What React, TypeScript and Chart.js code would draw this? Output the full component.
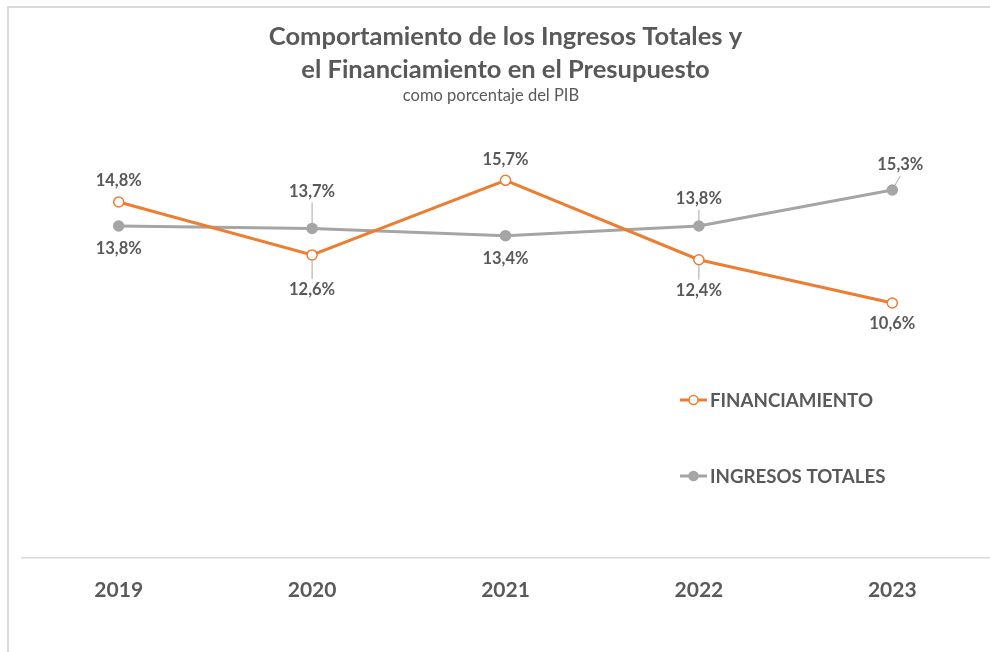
import React, { useEffect, useRef } from "react";
import { Chart, registerables } from "chart.js";

Chart.register(...registerables);

const years = ["2019", "2020", "2021", "2022", "2023"];
const financiamiento = [14.8, 12.6, 15.7, 12.4, 10.6];
const ingresosTotales = [13.8, 13.7, 13.4, 13.8, 15.3];
const seriesNames = ["FINANCIAMIENTO", "INGRESOS TOTALES"];
const titleLines = ["Comportamiento de los Ingresos Totales y", "el Financiamiento en el Presupuesto"];
const subtitleText = "como porcentaje del PIB";

const ORANGE = "#ED7D31";
const GRAY = "#A5A5A5";
const TEXT = "#595959";
const FONT = "Lato, 'Open Sans', sans-serif";

// label placement (pixel offsets from each point) – styling only
const labelPlacement = [
  [
    { dx: 0, dy: -21, leader: false },
    { dx: 0, dy: 35, leader: true },
    { dx: 0, dy: -21, leader: false },
    { dx: 0, dy: 31, leader: true },
    { dx: 0, dy: 21, leader: false },
  ],
  [
    { dx: 0, dy: 23, leader: false },
    { dx: 0, dy: -37, leader: true },
    { dx: 0, dy: 23, leader: false },
    { dx: 0, dy: -27, leader: true },
    { dx: 8, dy: -25, leader: true },
  ],
];

const fmt = (v: number) => v.toFixed(1).replace(".", ",") + "%";

const dataLabelPlugin = {
  id: "dataLabels",
  afterDatasetsDraw(chart: any) {
    const ctx = chart.ctx;
    ctx.save();
    ctx.font = `bold 16.5px ${FONT}`;
    ctx.textAlign = "center";
    ctx.textBaseline = "middle";
    chart.data.datasets.forEach((ds: any, di: number) => {
      const meta = chart.getDatasetMeta(di);
      meta.data.forEach((pt: any, i: number) => {
        const p = labelPlacement[di][i];
        const lx = pt.x + p.dx;
        const ly = pt.y + p.dy;
        if (p.leader) {
          const ex = lx;
          const ey = ly + (p.dy < 0 ? 11 : -11);
          const vx = ex - pt.x;
          const vy = ey - pt.y;
          const len = Math.hypot(vx, vy) || 1;
          const sx = pt.x + (vx / len) * 5;
          const sy = pt.y + (vy / len) * 5;
          ctx.strokeStyle = "#A6A6A6";
          ctx.lineWidth = 1;
          ctx.beginPath();
          ctx.moveTo(sx, sy);
          ctx.lineTo(ex, ey);
          ctx.stroke();
        }
        ctx.fillStyle = TEXT;
        ctx.fillText(fmt(ds.data[i]), lx, ly);
      });
    });
    ctx.restore();
  },
};

const subtitlePlugin = {
  id: "subtitleText",
  afterDraw(chart: any) {
    const ctx = chart.ctx;
    ctx.save();
    ctx.font = `normal 16.5px ${FONT}`;
    ctx.fillStyle = TEXT;
    ctx.textAlign = "center";
    ctx.textBaseline = "middle";
    ctx.fillText(subtitleText, 491, 96);
    ctx.restore();
  },
};

const legendPlugin = {
  id: "customLegend",
  afterDraw(chart: any) {
    const ctx = chart.ctx;
    const x0 = 680;
    const ys = [400, 476];
    ctx.save();
    chart.data.datasets.forEach((ds: any, di: number) => {
      const y = ys[di];
      ctx.strokeStyle = ds.borderColor;
      ctx.lineWidth = 3;
      ctx.beginPath();
      ctx.moveTo(x0, y);
      ctx.lineTo(x0 + 27, y);
      ctx.stroke();
      ctx.beginPath();
      ctx.arc(x0 + 13.5, y, 4.5, 0, Math.PI * 2);
      ctx.fillStyle = ds.pointBackgroundColor;
      ctx.fill();
      ctx.lineWidth = 1.5;
      ctx.strokeStyle = ds.pointBorderColor;
      ctx.stroke();
      ctx.fillStyle = TEXT;
      ctx.font = `bold 18.7px ${FONT}`;
      ctx.textAlign = "left";
      ctx.textBaseline = "middle";
      ctx.fillText(ds.label, x0 + 30, y + 1);
    });
    ctx.restore();
  },
};

export default function App() {
  const ref = useRef<HTMLCanvasElement>(null);
  useEffect(() => {
    if (!ref.current) return;
    const chart = new Chart(ref.current, {
      type: "line",
      data: {
        labels: years,
        datasets: [
          {
            label: seriesNames[0],
            data: financiamiento,
            borderColor: ORANGE,
            borderWidth: 3,
            pointBackgroundColor: "#FFFFFF",
            pointBorderColor: ORANGE,
            pointBorderWidth: 1.5,
            pointRadius: 5,
            tension: 0,
          },
          {
            label: seriesNames[1],
            data: ingresosTotales,
            borderColor: GRAY,
            borderWidth: 3,
            pointBackgroundColor: GRAY,
            pointBorderColor: GRAY,
            pointBorderWidth: 1.5,
            pointRadius: 5,
            tension: 0,
          },
        ],
      },
      options: {
        responsive: false,
        animation: false,
        layout: { autoPadding: false, padding: { left: 22, right: 1, top: 0, bottom: 0 } },
        plugins: {
          legend: { display: false },
          tooltip: { enabled: false },
          title: {
            display: true,
            text: titleLines,
            color: TEXT,
            font: { family: FONT, size: 25.5, weight: "bold", lineHeight: 1.294 },
            padding: { top: 20.5, bottom: 38.5 },
          },
          subtitle: { display: false },
        },
        scales: {
          x: {
            offset: true,
            grid: { display: false, drawTicks: false },
            border: { display: true, color: "#D9D9D9", width: 1.5 },
            ticks: {
              color: TEXT,
              font: { family: FONT, size: 21, weight: "bold" },
              padding: 20,
            },
            afterFit(scale: any) {
              scale.height = 94;
              scale.paddingLeft = 0;
              scale.paddingRight = 0;
            },
          },
          y: {
            display: false,
            min: 0,
            max: 18,
          },
        },
      },
      plugins: [dataLabelPlugin, subtitlePlugin, legendPlugin],
    });
    return () => chart.destroy();
  }, []);

  return (
    <div style={{ position: "absolute", left: 0, top: 0, width: 990, height: 652, background: "#fff", overflow: "hidden" }}>
      <canvas ref={ref} width={990} height={652} style={{ position: "absolute", left: 0, top: 0 }} />
      <div
        style={{
          position: "absolute",
          left: 7,
          top: 6,
          width: 1000,
          height: 700,
          borderLeft: "2px solid #D9D9D9",
          borderTop: "2px solid #D9D9D9",
          boxSizing: "border-box",
          pointerEvents: "none",
        }}
      />
    </div>
  );
}
